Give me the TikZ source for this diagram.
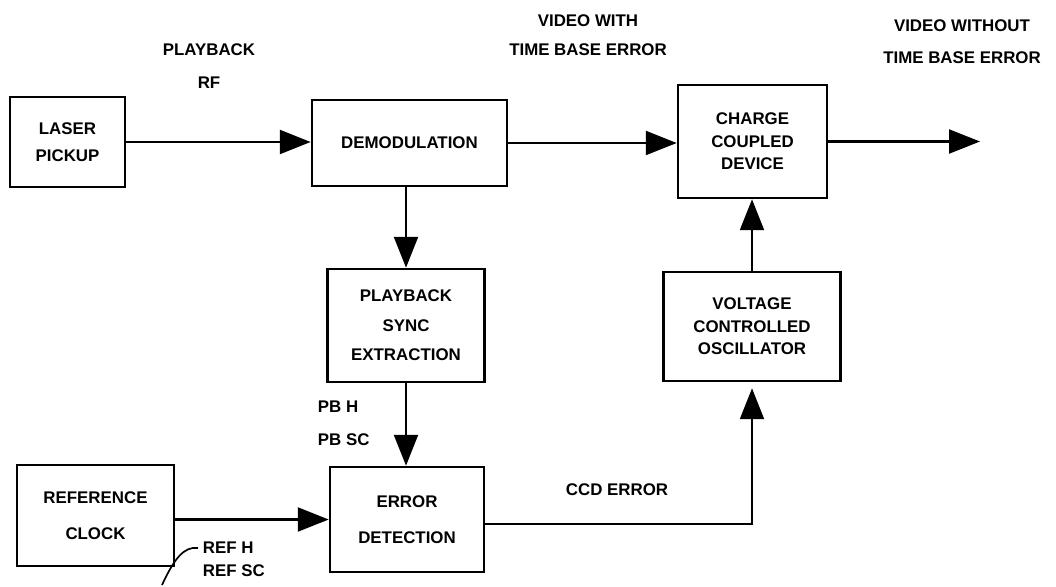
\documentclass[tikz,border=0pt]{standalone}
\usepackage{fontspec}
\setmainfont{Liberation Sans}
\usetikzlibrary{arrows.meta,calc}
\begin{document}
\begin{tikzpicture}[x=0.025cm,y=-0.025cm,
  every node/.style={font=\fontsize{12}{16}\selectfont\bfseries},
  blk/.style={draw,line width=1.8pt,align=center,inner sep=0pt},
  flow/.style={line width=1.8pt,-{Triangle[length=22pt,width=17pt]}}]
\useasboundingbox (0,0) rectangle (1056,586);
\node[blk,minimum width=2.875cm,minimum height=2.25cm] (laser) at (67.5,142) {LASER\\[3pt]PICKUP};
\node[blk,minimum width=4.875cm,minimum height=2.15cm] (demod) at (409.5,143) {DEMODULATION};
\node[blk,minimum width=3.725cm,minimum height=2.825cm] (ccd) at (752.5,141.5) {CHARGE\\COUPLED\\DEVICE};
\node[blk,minimum width=3.925cm,minimum height=2.825cm] (pbsync) at (406,325.5) {PLAYBACK\\[5pt]SYNC\\[5pt]EXTRACTION};
\node[blk,minimum width=4.425cm,minimum height=2.725cm] (vco) at (752,326.5) {VOLTAGE\\CONTROLLED\\OSCILLATOR};
\node[blk,minimum width=3.925cm,minimum height=2.525cm] (refclk) at (95.5,515.5) {REFERENCE\\[10pt]CLOCK};
\node[blk,minimum width=3.85cm,minimum height=2.625cm] (errdet) at (407,519.5) {ERROR\\[10pt]DETECTION};
\coordinate (out) at (980,141.5);

\node[align=center] (pbrf) at (209,66) {PLAYBACK\\[7pt]RF};
\node[align=center] (vidwith) at (588,35) {VIDEO WITH\\[5pt]TIME BASE ERROR};
\node[align=center] (vidwithout) at (962,41.5) {VIDEO WITHOUT\\[7pt]TIME BASE ERROR};
\node[anchor=west] (pbh) at (313,407) {PB H};
\node[anchor=west] (pbsc) at (313,440) {PB SC};
\node (ccderr) at (617,490) {CCD ERROR};
\node[anchor=west] (refh) at (198,548) {REF H};
\node[anchor=west] (refsc) at (198,571) {REF SC};

\draw[flow] (laser.east) -- (laser.east -| demod.west);
\draw[flow] (demod.east) -- (demod.east -| ccd.west);
\draw[flow] (ccd.east) -- (out);
\draw[flow] (pbsync.north |- demod.south) -- (pbsync.north);
\draw[flow] (pbsync.south) -- (pbsync.south |- errdet.north);
\draw[flow] (refclk.east |- errdet.west) -- (errdet.west);
\draw[flow,shorten >=0.15cm] ($(errdet.east)+(0,4.5)$) -| (vco.south);
\draw[flow] (vco.north) -- (vco.north |- ccd.south);
\draw[line width=1.2pt] (refh.west) .. controls +(-14,-2) and +(12,-26) .. ++(-36,37);
\end{tikzpicture}
\end{document}
